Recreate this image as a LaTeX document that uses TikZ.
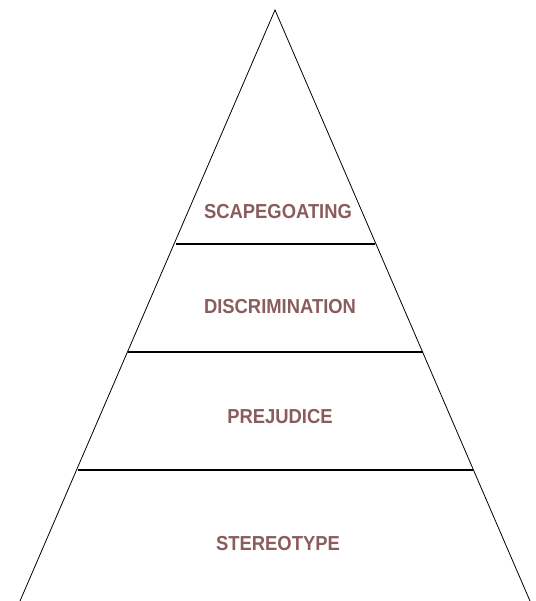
\documentclass[tikz,border=0pt]{standalone}
\usepackage{fontspec}
\setmainfont{Liberation Sans}
\definecolor{lbl}{HTML}{8A5C5C}
\begin{document}
\begin{tikzpicture}[x=1pt,y=-1pt,
  side/.style={draw=black,line width=0.8pt},
  tier/.style={draw=black,line width=1.6pt},
  lab/.style={text=lbl,font=\bfseries\fontsize{18.4}{22}\selectfont,inner sep=0pt,yscale=1.1}]
\useasboundingbox (0,0) rectangle (535,601);
\coordinate (apex) at (275,10);
\coordinate (bl) at (20,601);
\coordinate (br) at (530,601);
\draw[side] (bl) -- (apex) -- (br);
\coordinate (l1) at (176,244); \coordinate (r1) at (375,244);
\coordinate (l2) at (128,352); \coordinate (r2) at (423,352);
\coordinate (l3) at (78,470);  \coordinate (r3) at (473,470);
\draw[tier] (l1) -- (r1);
\draw[tier] (l2) -- (r2);
\draw[tier] (l3) -- (r3);
\node[lab] (scape) at (278,212) {SCAPEGOATING};
\node[lab] (disc) at (280,307) {DISCRIMINATION};
\node[lab] (prej) at (280,417) {PREJUDICE};
\node[lab] (ster) at (278,544) {STEREOTYPE};
\end{tikzpicture}
\end{document}
